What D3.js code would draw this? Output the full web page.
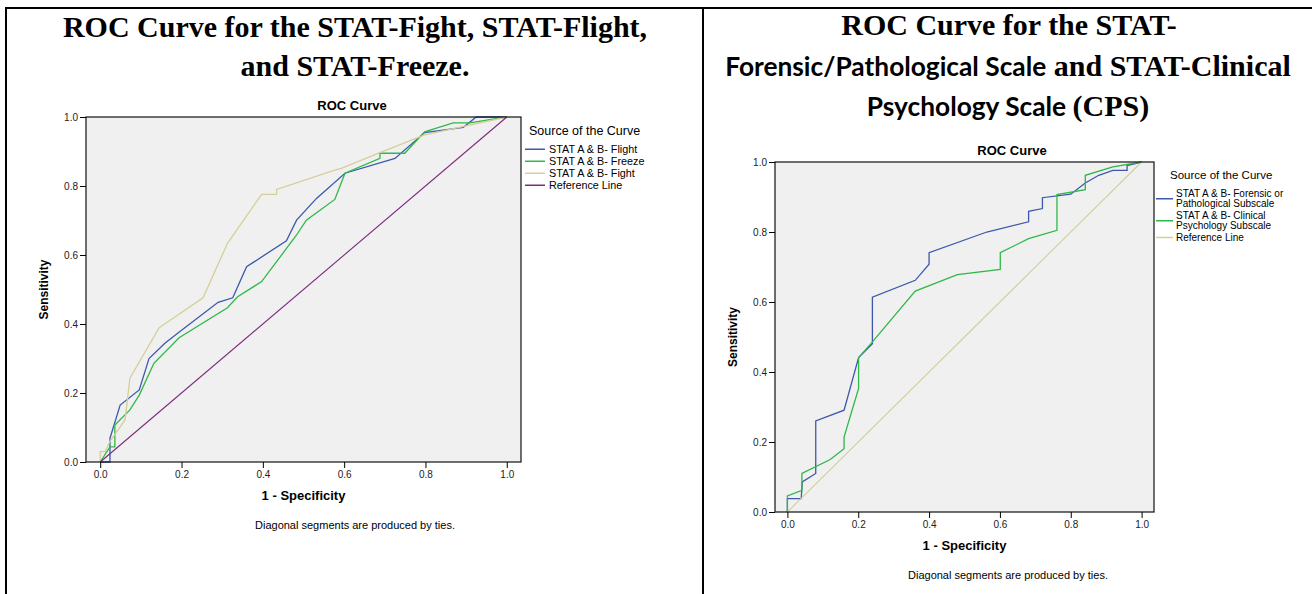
<!DOCTYPE html>
<html>
<head>
<meta charset="utf-8">
<script src="https://cdn.jsdelivr.net/npm/d3@7"></script>
<style>
  html, body { margin: 0; padding: 0; background: #fff; }
  svg { display: block; }
</style>
</head>
<body>
<svg id="page" width="1312" height="594"></svg>
<script>
// axis ticks shared by both ROC plots
const fprTicks = [0, 0.2, 0.4, 0.6, 0.8, 1.0];
const tprTicks = [0, 0.2, 0.4, 0.6, 0.8, 1.0];

// left plot: [1 - specificity, sensitivity]
const flightCurve = [[0, 0], [0.024, 0], [0.024, 0.069], [0.049, 0.165], [0.096, 0.209], [0.120, 0.300],
  [0.159, 0.344], [0.196, 0.378], [0.290, 0.463], [0.326, 0.476], [0.360, 0.566], [0.458, 0.641],
  [0.483, 0.701], [0.532, 0.764], [0.602, 0.837], [0.725, 0.880], [0.798, 0.955], [0.893, 0.970],
  [0.925, 1.0], [1, 1]];
const freezeCurve = [[0, 0], [0.024, 0.044], [0.036, 0.044], [0.036, 0.107], [0.073, 0.151], [0.096, 0.194],
  [0.132, 0.286], [0.194, 0.360], [0.313, 0.447], [0.338, 0.479], [0.397, 0.523], [0.483, 0.658],
  [0.507, 0.701], [0.577, 0.761], [0.602, 0.837], [0.688, 0.880], [0.688, 0.895], [0.749, 0.895],
  [0.798, 0.957], [0.868, 0.983], [0.909, 0.983], [1, 1]];
const fightCurve = [[0, 0], [0, 0.030], [0.012, 0.030], [0.024, 0.060], [0.061, 0.122], [0.073, 0.243],
  [0.145, 0.389], [0.253, 0.476], [0.313, 0.634], [0.397, 0.776], [0.434, 0.776], [0.434, 0.790],
  [0.577, 0.846], [0.593, 0.851], [0.688, 0.897], [0.798, 0.948], [1, 1]];

// right plot
const forensicCurve = [[0, 0], [0, 0.038], [0.039, 0.038], [0.042, 0.086], [0.080, 0.110], [0.080, 0.260],
  [0.160, 0.291], [0.201, 0.441], [0.240, 0.481], [0.240, 0.614], [0.361, 0.662], [0.400, 0.708],
  [0.400, 0.741], [0.563, 0.800], [0.681, 0.829], [0.681, 0.859], [0.720, 0.867], [0.720, 0.898],
  [0.800, 0.908], [0.841, 0.940], [0.879, 0.962], [0.919, 0.976], [0.959, 0.976], [0.959, 0.990], [1, 1]];
const clinicalCurve = [[0, 0], [0, 0.046], [0.041, 0.062], [0.041, 0.110], [0.121, 0.150], [0.160, 0.181],
  [0.160, 0.214], [0.201, 0.353], [0.201, 0.441], [0.240, 0.486], [0.361, 0.631], [0.480, 0.678],
  [0.601, 0.693], [0.601, 0.741], [0.681, 0.781], [0.761, 0.805], [0.761, 0.907], [0.841, 0.921],
  [0.841, 0.962], [0.919, 0.986], [1, 1]];

const referenceLine = [[0, 0], [1, 1]];

const SANS = "'Liberation Sans', Arial, sans-serif";
const SERIF = "'Liberation Serif', 'Times New Roman', serif";
const CALIBRI = "Lato, 'Open Sans', sans-serif";

// SPSS default palette
const BLUE = "#3e58ac", GREEN = "#2eb848", BEIGE = "#d4cf9a", PURPLE = "#7c287d";

const svg = d3.select("#page");

// page frame (document table borders)
svg.append("g")
  .attr("stroke", "#000")
  .attr("stroke-width", 2)
  .call(g => g.append("line").attr("x1", 5).attr("x2", 1312).attr("y1", 8).attr("y2", 8))
  .call(g => g.append("line").attr("x1", 6).attr("x2", 6).attr("y1", 7).attr("y2", 594))
  .call(g => g.append("line").attr("x1", 703).attr("x2", 703).attr("y1", 7).attr("y2", 594));

// document headings
const headL = svg.append("text")
  .attr("font-family", SERIF).attr("font-weight", "bold").attr("font-size", 30)
  .attr("text-anchor", "middle").attr("fill", "#000");
headL.append("tspan").attr("x", 355).attr("y", 37).text("ROC Curve for the STAT-Fight, STAT-Flight,");
headL.append("tspan").attr("x", 355).attr("y", 76).text("and STAT-Freeze.");

const headR = svg.append("g")
  .attr("font-weight", "bold").attr("font-size", 30)
  .attr("text-anchor", "middle").attr("fill", "#000");
headR.append("text").attr("x", 1009).attr("y", 35).attr("font-family", SERIF).text("ROC Curve for the STAT-");
const r2 = headR.append("text").attr("x", 1008).attr("y", 76);
r2.append("tspan").attr("font-family", CALIBRI).attr("font-size", 26.3).text("Forensic/Pathological Scale");
r2.append("tspan").attr("font-family", SERIF).text(" and STAT-Clinical");
const r3 = headR.append("text").attr("x", 1008).attr("y", 116);
r3.append("tspan").attr("font-family", CALIBRI).attr("font-size", 26.3).text("Psychology Scale ");
r3.append("tspan").attr("font-family", SERIF).text("(CPS)");

function drawRoc(cfg) {
  const g = svg.append("g").attr("font-family", SANS);

  const x = d3.scaleLinear().domain([-0.035, 1.035]).range([cfg.left, cfg.right]);
  const y = d3.scaleLinear().domain([0, 1]).range([cfg.bottom, cfg.top]);

  g.append("rect")
    .attr("x", cfg.left).attr("y", cfg.top)
    .attr("width", cfg.right - cfg.left).attr("height", cfg.bottom - cfg.top)
    .attr("fill", "#f0f0f0");

  const line = d3.line().x(d => x(d[0])).y(d => y(d[1]));

  g.append("g")
    .attr("fill", "none")
    .selectAll("path")
    .data(cfg.series)
    .join("path")
    .attr("stroke", d => d.color)
    .attr("stroke-width", d => d.width)
    .attr("d", d => line(d.values));

  // frame
  g.append("rect")
    .attr("x", cfg.left).attr("y", cfg.top)
    .attr("width", cfg.right - cfg.left).attr("height", cfg.bottom - cfg.top)
    .attr("fill", "none").attr("stroke", "#111").attr("stroke-width", 1.2);

  g.append("g")
    .attr("transform", `translate(0,${cfg.bottom})`)
    .call(d3.axisBottom(x).tickValues(fprTicks).tickFormat(d3.format(".1f")).tickSize(6).tickPadding(3))
    .call(a => a.select(".domain").remove())
    .call(a => a.selectAll("text").attr("font-family", SANS).attr("font-size", 10).attr("fill", "#222"));

  g.append("g")
    .attr("transform", `translate(${cfg.left},0)`)
    .call(d3.axisLeft(y).tickValues(tprTicks).tickFormat(d3.format(".1f")).tickSize(6).tickPadding(2))
    .call(a => a.select(".domain").remove())
    .call(a => a.selectAll("text").attr("font-family", SANS).attr("font-size", 10).attr("fill", "#222"));

  g.append("text")
    .attr("x", cfg.titleX).attr("y", cfg.top - 7)
    .attr("text-anchor", "middle").attr("font-weight", "bold").attr("font-size", 13)
    .text("ROC Curve");

  g.append("text")
    .attr("transform", `translate(${cfg.left - 38},${(cfg.top + cfg.bottom) / 2}) rotate(-90)`)
    .attr("text-anchor", "middle").attr("font-weight", "bold").attr("font-size", 12)
    .text("Sensitivity");

  g.append("text")
    .attr("x", (cfg.left + cfg.right) / 2).attr("y", cfg.bottom + 38)
    .attr("text-anchor", "middle").attr("font-weight", "bold").attr("font-size", 13)
    .text("1 - Specificity");

  g.append("text")
    .attr("x", cfg.noteX).attr("y", cfg.bottom + 67)
    .attr("text-anchor", "middle").attr("font-size", 11)
    .text("Diagonal segments are produced by ties.");

  // legend
  const lg = g.append("g").attr("transform", `translate(${cfg.legend.x},${cfg.legend.y})`);
  lg.append("text")
    .attr("x", cfg.legend.titleDx).attr("y", 0)
    .attr("font-size", cfg.legend.titleSize)
    .text("Source of the Curve");

  let rowY = cfg.legend.firstRow;
  cfg.series.forEach(s => {
    const lines = s.label;
    const ly = rowY + (lines.length - 1) * cfg.legend.lineGap / 2 - cfg.legend.size * 0.3;
    lg.append("line")
      .attr("x1", cfg.legend.lineX0).attr("x2", cfg.legend.lineX1)
      .attr("y1", ly).attr("y2", ly)
      .attr("stroke", s.color).attr("stroke-width", 1.5);
    lines.forEach((t, i) => {
      lg.append("text")
        .attr("x", cfg.legend.textX).attr("y", rowY + i * cfg.legend.lineGap)
        .attr("font-size", cfg.legend.size)
        .text(t);
    });
    rowY += lines.length * cfg.legend.lineGap + cfg.legend.rowGap;
  });
}

drawRoc({
  left: 86, right: 521, top: 117, bottom: 462,
  titleX: 352, noteX: 355,
  legend: { x: 524, y: 135, titleDx: 5, titleSize: 12.5, size: 10.8, textX: 25, lineX0: 1, lineX1: 21,
    firstRow: 17.5, lineGap: 12, rowGap: 0 },
  series: [
    { values: flightCurve, color: BLUE, width: 1.3, label: ["STAT A & B- Flight"] },
    { values: freezeCurve, color: GREEN, width: 1.3, label: ["STAT A & B- Freeze"] },
    { values: fightCurve, color: BEIGE, width: 1.3, label: ["STAT A & B- Fight"] },
    { values: referenceLine, color: PURPLE, width: 1.1, label: ["Reference Line"] }
  ]
});

drawRoc({
  left: 775, right: 1154, top: 162, bottom: 512,
  titleX: 1012, noteX: 1008,
  legend: { x: 1155, y: 179, titleDx: 15, titleSize: 11.5, size: 10, textX: 21, lineX0: 1, lineX1: 18,
    firstRow: 17.5, lineGap: 10.5, rowGap: 1 },
  series: [
    { values: forensicCurve, color: BLUE, width: 1.3, label: ["STAT A & B- Forensic or", "Pathological Subscale"] },
    { values: clinicalCurve, color: GREEN, width: 1.3, label: ["STAT A & B- Clinical", "Psychology Subscale"] },
    { values: referenceLine, color: BEIGE, width: 1.1, label: ["Reference Line"] }
  ]
});
</script>
</body>
</html>
